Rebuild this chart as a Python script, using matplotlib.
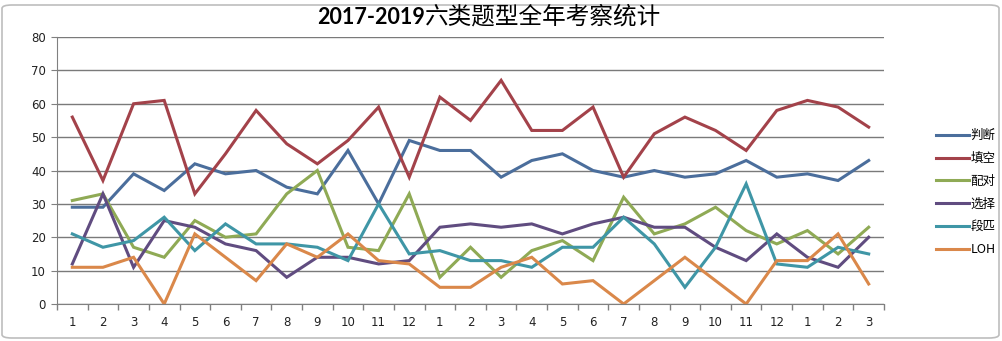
import matplotlib
matplotlib.use('Agg')
import matplotlib.pyplot as plt
from matplotlib.patches import FancyBboxPatch

plt.rcParams['font.family'] = ['Noto Sans CJK SC', 'DejaVu Sans']

# Données (2017-01 ... 2019-03)
month_labels = [str(m) for m in range(1, 13)] + [str(m) for m in range(1, 13)] + ['1', '2', '3']

panduan = [29, 29, 39, 34, 42, 39, 40, 35, 33, 46, 30, 49,
           46, 46, 38, 43, 45, 40, 38, 40, 38, 39, 43, 38, 39, 37, 43]
tiankong = [56, 37, 60, 61, 33, 45, 58, 48, 42, 49, 59, 38,
            62, 55, 67, 52, 52, 59, 38, 51, 56, 52, 46, 58, 61, 59, 53]
peidui = [31, 33, 17, 14, 25, 20, 21, 33, 40, 17, 16, 33,
          8, 17, 8, 16, 19, 13, 32, 21, 24, 29, 22, 18, 22, 15, 23]
xuanze = [12, 33, 11, 25, 23, 18, 16, 8, 14, 14, 12, 13,
          23, 24, 23, 24, 21, 24, 26, 23, 23, 17, 13, 21, 14, 11, 20]
duanpi = [21, 17, 19, 26, 16, 24, 18, 18, 17, 13, 30, 15,
          16, 13, 13, 11, 17, 17, 26, 18, 5, 17, 36, 12, 11, 17, 15]
loh = [11, 11, 14, 0, 21, 14, 7, 18, 14, 21, 13, 12,
       5, 5, 11, 14, 6, 7, 0, 7, 14, 7, 0, 13, 13, 21, 6]

series = [('判断', panduan, '#4B6E9C'),
          ('填空', tiankong, '#A3424A'),
          ('配对', peidui, '#8FAA55'),
          ('选择', xuanze, '#604C80'),
          ('段匹', duanpi, '#3F96A6'),
          ('LOH', loh, '#DA884A')]

fig = plt.figure(figsize=(10.03, 3.41), dpi=100)
ax = fig.add_axes([57 / 1003, 37 / 341, (884 - 57) / 1003, (304 - 37) / 341])

x = list(range(1, len(month_labels) + 1))
for name, vals, col in series:
    ax.plot(x, vals, color=col, lw=2.2, label=name, solid_joinstyle='miter')

ax.set_xlim(0.5, len(x) + 0.5)
ax.set_ylim(0, 80)
ax.set_yticks(range(0, 81, 10))
ax.set_xticks(x)
ax.set_xticklabels(month_labels, family='DejaVu Sans')
ax.set_xticks([i + 0.5 for i in range(0, len(x) + 1)], minor=True)
ax.tick_params(axis='x', which='major', length=0, pad=9, labelsize=8.5, colors='#222222')
ax.tick_params(axis='x', which='minor', length=4, color='#808080', width=1)
ax.tick_params(axis='y', length=4, color='#808080', labelsize=8.5, colors='#222222', pad=4)
for lbl in ax.get_yticklabels():
    lbl.set_family('DejaVu Sans')

ax.grid(axis='y', color='#7a7a7a', lw=1)
ax.set_axisbelow(True)
for s in ['top', 'right']:
    ax.spines[s].set_visible(False)
ax.spines['left'].set_color('#808080')
ax.spines['bottom'].set_color('#808080')

leg = fig.legend(loc='upper left', bbox_to_anchor=(925 / 1003, 1 - 118 / 341), frameon=False,
                 fontsize=9, handlelength=2.6, handletextpad=0.15, labelspacing=0.78)

# Titre : chiffres en gras, caractères en normal
fig.text(425 / 1003, 1 - 17 / 341, '2017-2019', ha='right', va='center',
         fontsize=15.5, weight='bold', family=['Lato', 'DejaVu Sans'])
fig.text(425 / 1003, 1 - 17 / 341, '六类题型全年考察统计', ha='left', va='center', fontsize=17)

# cadre arrondi
fig.patches.append(FancyBboxPatch((2 / 1003, 3 / 341), 997 / 1003, 333 / 341,
                                  boxstyle='round,pad=0,rounding_size=0.01',
                                  transform=fig.transFigure, fill=False,
                                  ec='#bdbdbd', lw=1.2))

plt.savefig('out.png', dpi=100)
